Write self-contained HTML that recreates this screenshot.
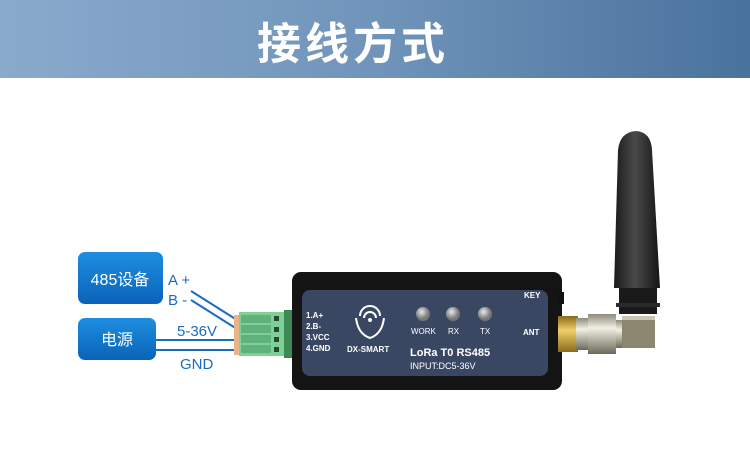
<!DOCTYPE html>
<html><head><meta charset="utf-8"><style>
html,body{margin:0;padding:0;width:750px;height:474px;overflow:hidden;background:#fff}
svg{display:block}
text{font-family:"Liberation Sans","Noto Sans CJK SC",sans-serif}
</style></head><body>
<svg width="750" height="474" viewBox="0 0 750 474">
<defs>
<linearGradient id="hd" x1="0" x2="1"><stop offset="0" stop-color="#8aaacd"/><stop offset="0.5" stop-color="#7094ba"/><stop offset="1" stop-color="#49729d"/></linearGradient>
<linearGradient id="bx" x1="0" y1="0" x2="0" y2="1"><stop offset="0" stop-color="#1e8ee0"/><stop offset="1" stop-color="#0a63b8"/></linearGradient>
<linearGradient id="ant" x1="0" x2="1"><stop offset="0" stop-color="#1a1a1a"/><stop offset="0.45" stop-color="#4a4a4a"/><stop offset="1" stop-color="#151515"/></linearGradient>
<linearGradient id="gold" x1="0" y1="0" x2="0" y2="1"><stop offset="0" stop-color="#8a6a1c"/><stop offset="0.4" stop-color="#f0cf6a"/><stop offset="1" stop-color="#8a6a1c"/></linearGradient>
<linearGradient id="sil" x1="0" y1="0" x2="0" y2="1"><stop offset="0" stop-color="#8c8a7a"/><stop offset="0.35" stop-color="#f2f0e4"/><stop offset="0.7" stop-color="#a9a796"/><stop offset="1" stop-color="#6a695c"/></linearGradient>
<radialGradient id="led" cx="0.4" cy="0.35"><stop offset="0" stop-color="#e8e8e8"/><stop offset="1" stop-color="#777"/></radialGradient>
</defs>
<rect x="0" y="0" width="750" height="78" fill="url(#hd)"/>
<text x="353" y="59" font-size="44" fill="#fff" text-anchor="middle" letter-spacing="4" font-weight="bold">接线方式</text>

<rect x="78" y="252" width="85" height="52" rx="7" fill="url(#bx)"/>
<text x="120" y="285" font-size="16" fill="#fff" text-anchor="middle">485设备</text>
<rect x="78" y="318" width="78" height="42" rx="7" fill="url(#bx)"/>
<text x="117" y="345" font-size="16" fill="#fff" text-anchor="middle">电源</text>

<text x="168" y="285" font-size="15" fill="#1a6cc0">A +</text>
<text x="168" y="305" font-size="15" fill="#1a6cc0">B -</text>
<text x="177" y="336" font-size="15" fill="#1a6cc0">5-36V</text>
<text x="180" y="369" font-size="15" fill="#1a6cc0">GND</text>
<g stroke="#1a6cc0" stroke-width="2" fill="none">
<line x1="191" y1="291" x2="237" y2="320"/>
<line x1="191" y1="300" x2="237" y2="329"/>
<line x1="156" y1="340" x2="237" y2="340"/>
<line x1="156" y1="350" x2="237" y2="350"/>
</g>
<rect x="234" y="315" width="6" height="40" fill="#e8b48a"/>
<rect x="239" y="312" width="50" height="44" fill="#7ecf98"/>
<g fill="#5fb37a"><rect x="241" y="315" width="30" height="8"/><rect x="241" y="325" width="30" height="8"/><rect x="241" y="335" width="30" height="8"/><rect x="241" y="345" width="30" height="8"/></g>
<g fill="#2a4a30"><rect x="274" y="316" width="5" height="5"/><rect x="274" y="327" width="5" height="5"/><rect x="274" y="337" width="5" height="5"/><rect x="274" y="347" width="5" height="5"/></g>
<rect x="284" y="310" width="10" height="48" fill="#3e8a55"/>
<rect x="292" y="272" width="270" height="118" rx="9" fill="#141414"/>
<rect x="302" y="290" width="246" height="86" rx="8" fill="#3a4762"/>
<rect x="558" y="292" width="6" height="12" fill="#111"/>
<g font-size="8" fill="#fff" font-weight="bold">
<text x="306" y="318">1.A+</text><text x="306" y="329">2.B-</text><text x="306" y="340">3.VCC</text><text x="306" y="351">4.GND</text>
<text x="347" y="352">DX-SMART</text>
<text x="524" y="298">KEY</text><text x="523" y="335">ANT</text>
</g>
<g fill="none" stroke="#fff" stroke-width="2">
<path d="M360 316 a10 10 0 0 1 20 0"/><path d="M364 318 a6 6 0 0 1 12 0"/>
<path d="M356 318 q2 16 14 20 q12 -4 14 -20"/>
</g>
<circle cx="370" cy="320" r="2" fill="#fff"/>
<circle cx="423" cy="314" r="7" fill="url(#led)"/>
<circle cx="453" cy="314" r="7" fill="url(#led)"/>
<circle cx="485" cy="314" r="7" fill="url(#led)"/>
<g font-size="8" fill="#fff"><text x="411" y="334">WORK</text><text x="448" y="334">RX</text><text x="480" y="334">TX</text></g>
<text x="410" y="356" font-size="11" fill="#fff" font-weight="bold">LoRa  T0  RS485</text>
<text x="410" y="369" font-size="9" fill="#fff">INPUT:DC5-36V</text>
<rect x="558" y="316" width="20" height="36" fill="url(#gold)"/>
<rect x="576" y="318" width="12" height="32" fill="url(#sil)"/>
<rect x="588" y="314" width="28" height="40" fill="url(#sil)"/>
<rect x="616" y="320" width="6" height="28" fill="url(#sil)"/>
<rect x="622" y="316" width="33" height="32" fill="#8a8670"/>
<rect x="622" y="316" width="33" height="4" fill="#c9c6b2"/>
<rect x="619" y="288" width="38" height="26" fill="#1a1a1a"/>
<rect x="616" y="303" width="44" height="4" fill="#2a2a2a"/>
<path d="M614 288 L618 150 Q620 132 636 131 Q651 132 652 150 L660 288 Z" fill="url(#ant)"/>
</svg>
</body></html>
